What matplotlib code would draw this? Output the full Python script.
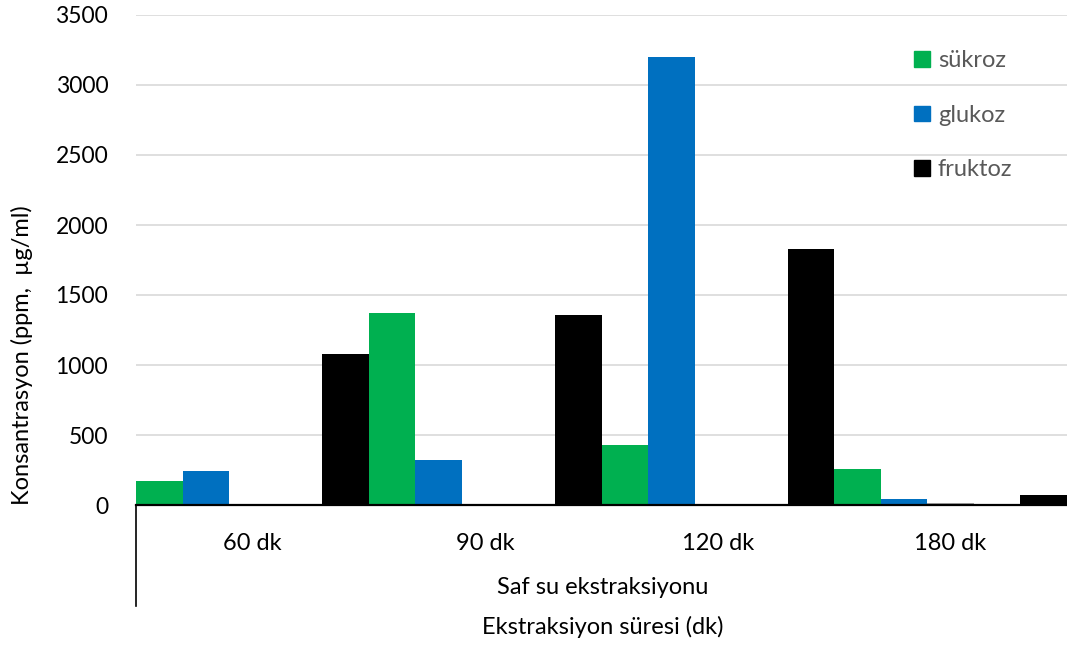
import matplotlib
matplotlib.use("Agg")
import matplotlib.pyplot as plt
from matplotlib.patches import Patch
import matplotlib.transforms as mtransforms

categories = ["60 dk", "90 dk", "120 dk", "180 dk"]
sukroz = [170, 1370, 430, 260]
glukoz = [240, 320, 3200, 45]
diger = [0, 0, 0, 15]
fruktoz = [1080, 1360, 1830, 70]
yticks = [0, 500, 1000, 1500, 2000, 2500, 3000, 3500]

FONT = ["Lato", "DejaVu Sans"]
plt.rcParams['font.family'] = FONT

W, H = 1067, 645
fig = plt.figure(figsize=(W / 100, H / 100), dpi=100)
ax = fig.add_axes([136 / W, 1 - 505 / H, (1067 - 136) / W, (505 - 15) / H])

n_slots = 5
bw = 1.0 / n_slots
xs = list(range(len(categories)))

def pos(slot):
    return [x + (slot - 2) * bw for x in xs]

ax.bar(pos(0), sukroz, width=bw, color="#00b050", edgecolor="none", zorder=3)
ax.bar(pos(1), glukoz, width=bw, color="#0070c0", edgecolor="none", zorder=3)
ax.bar(pos(2), diger, width=bw, color="#a5a5a5", edgecolor="none", zorder=3)
ax.bar(pos(4), fruktoz, width=bw, color="#000000", edgecolor="none", zorder=3)

ax.set_xlim(-0.5, len(categories) - 0.5)
ax.set_ylim(0, 3500)
ax.set_yticks(yticks)
ax.set_yticklabels([str(v) for v in yticks], fontsize=16.5)
ax.set_xticks(xs)
ax.set_xticklabels(categories, fontsize=17)
ax.tick_params(axis="both", length=0)
ax.tick_params(axis="y", pad=20)
ax.tick_params(axis="x", pad=20)

ax.grid(axis="y", color="#d9d9d9", linewidth=1.2, zorder=0)
ax.set_axisbelow(True)
for s in ["left", "right", "top"]:
    ax.spines[s].set_visible(False)
ax.spines["bottom"].set_linewidth(1.6)
ax.spines["bottom"].set_color("black")
ax.spines["bottom"].set_zorder(5)

# multi-level category separator line
trans = mtransforms.blended_transform_factory(ax.transAxes, fig.transFigure)
ax.plot([0, 0], [1 - 505 / H, 1 - 606 / H], color="black", linewidth=1.2,
        transform=trans, clip_on=False)

fig.text(603 / W, 1 - 588 / H, "Saf su ekstraksiyonu", ha="center", va="center", fontsize=17)
fig.text(603 / W, 1 - 627 / H, "Ekstraksiyon süresi (dk)", ha="center", va="center", fontsize=17)
fig.text(22 / W, 1 - 355 / H, "Konsantrasyon (ppm,  µg/ml)", ha="center", va="center",
         rotation=90, fontsize=17)

handles = [Patch(color="#00b050"), Patch(color="#0070c0"), Patch(color="#000000")]
leg = ax.legend(handles, ["sükroz", "glukoz", "fruktoz"], loc="upper left",
                bbox_to_anchor=(893 / W, 1 - 29 / H), bbox_transform=fig.transFigure,
                frameon=False, fontsize=17, handlelength=0.65, handleheight=0.65,
                handletextpad=0.35, labelspacing=1.42)
for t in leg.get_texts():
    t.set_color("#595959")

fig.savefig("out.png", dpi=100)
